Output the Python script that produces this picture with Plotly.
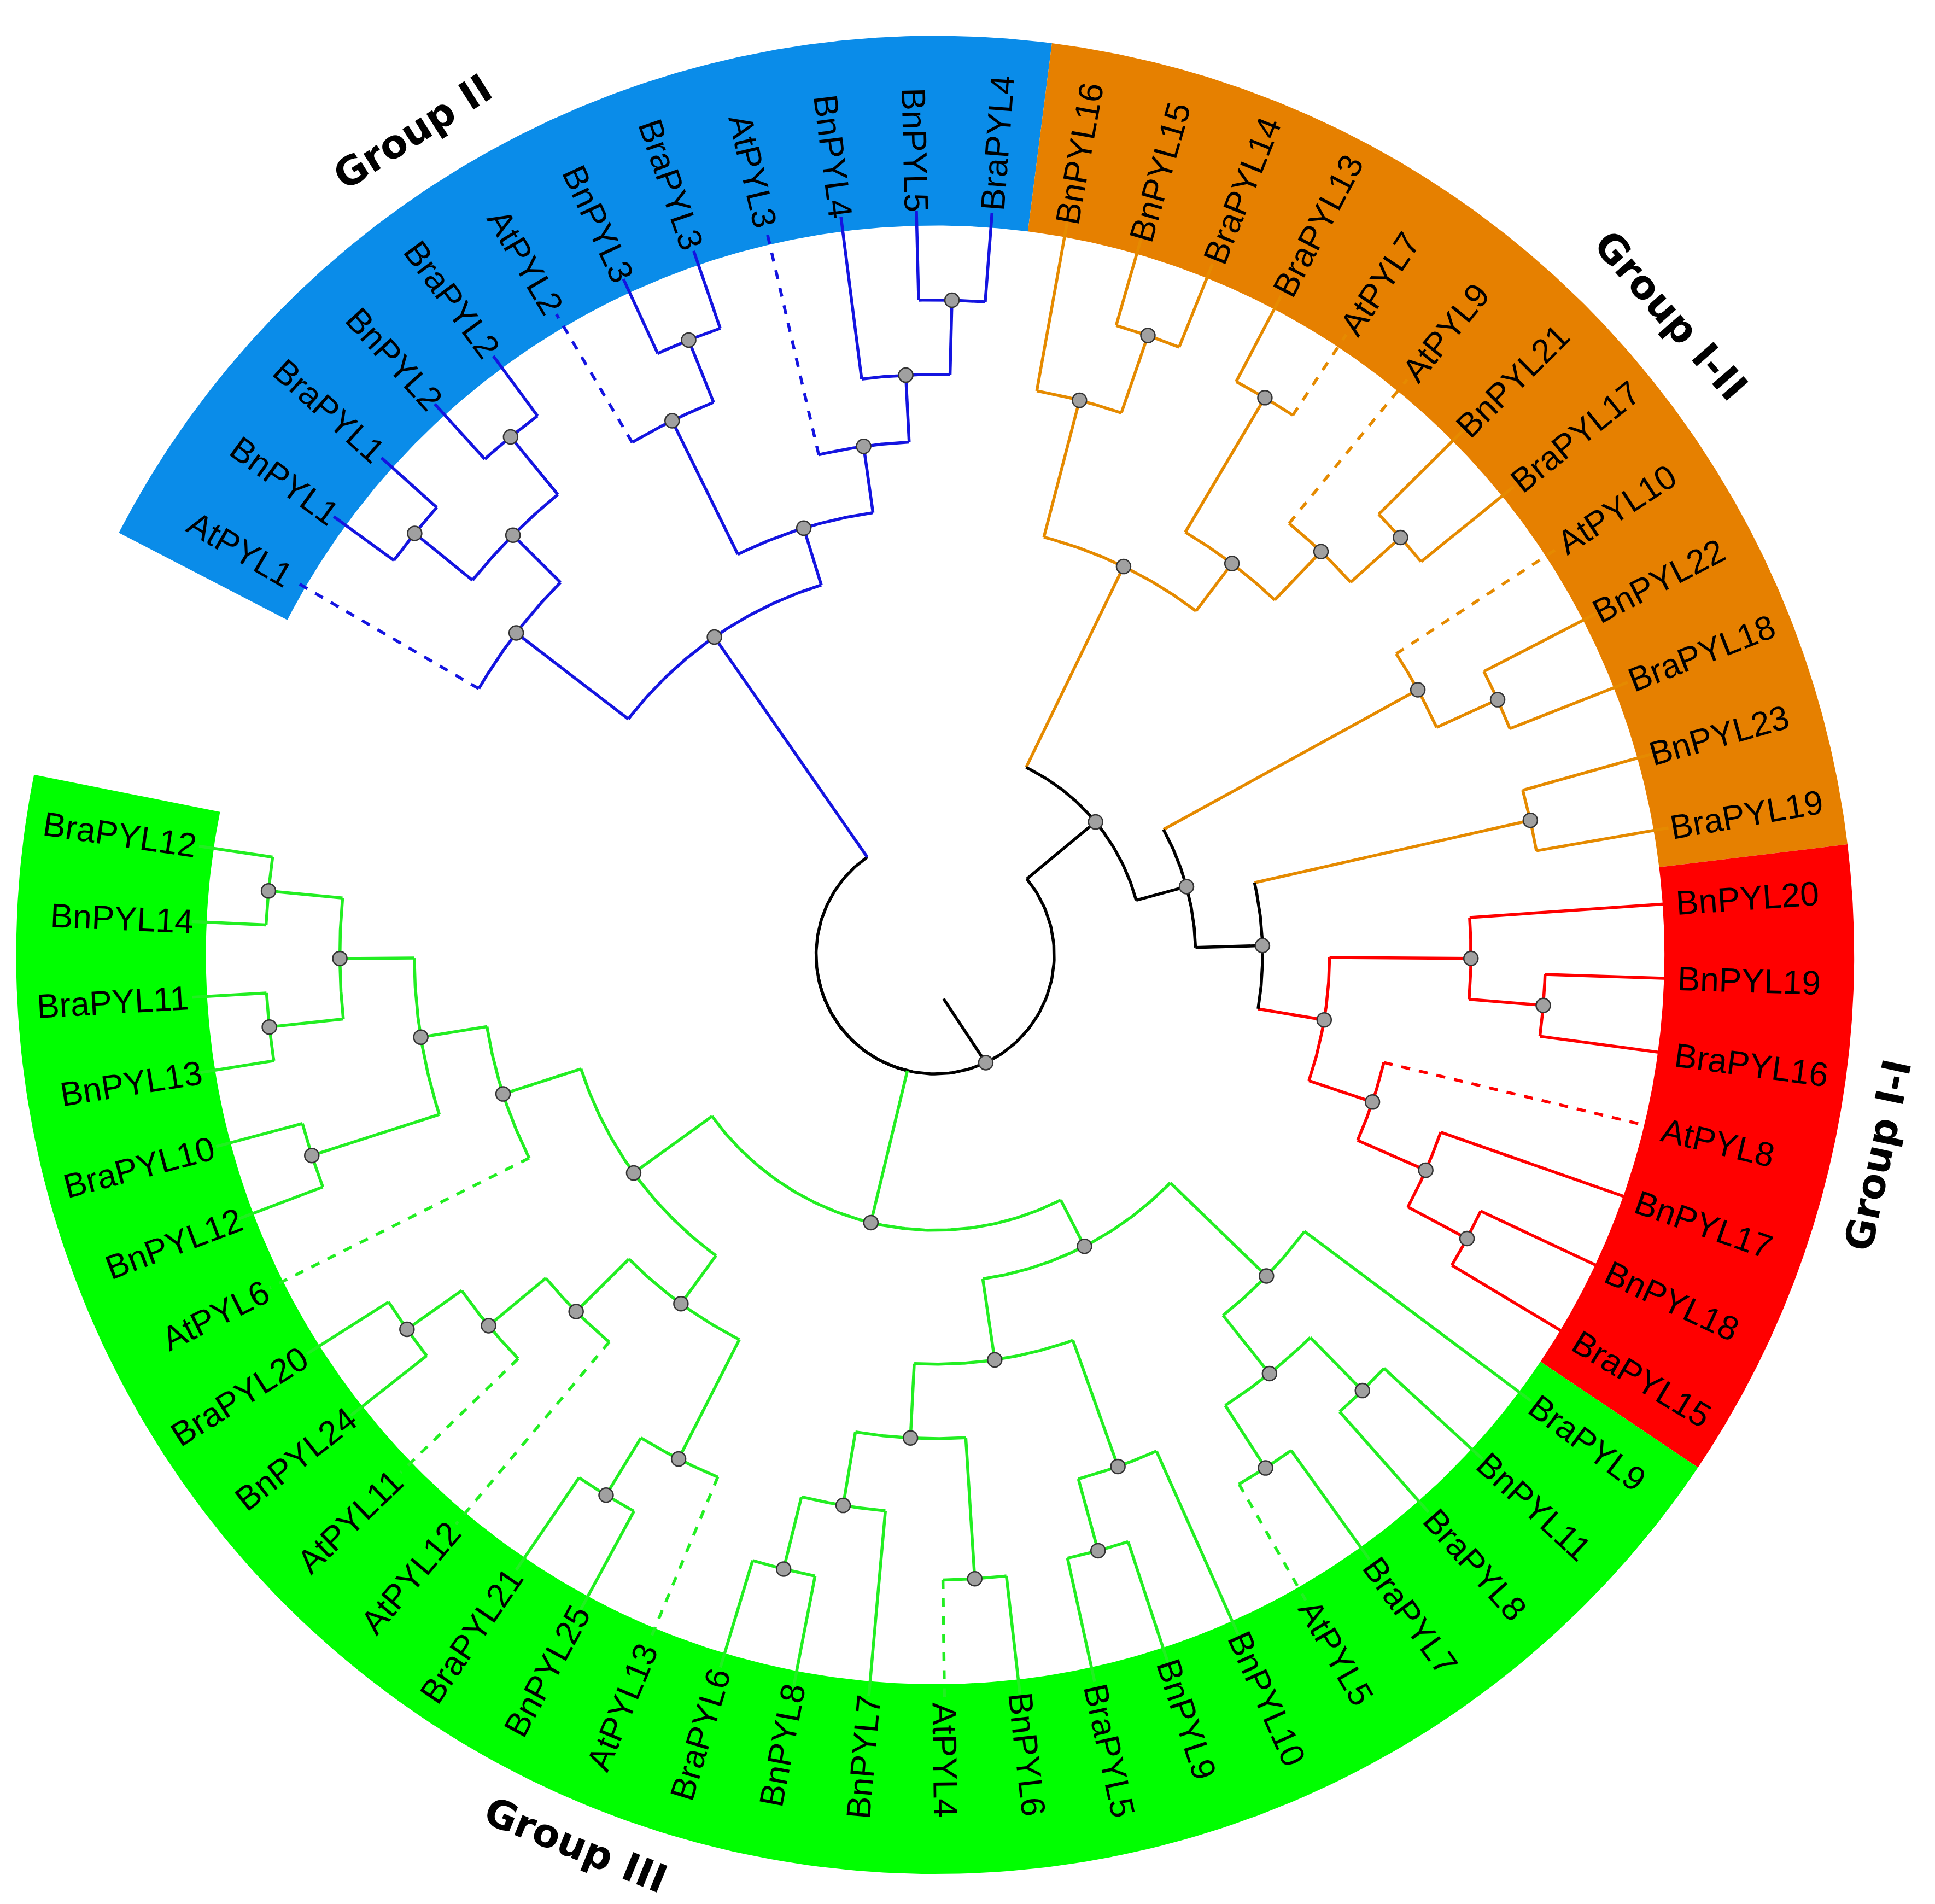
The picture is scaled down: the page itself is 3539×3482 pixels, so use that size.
import numpy as np
import plotly.graph_objects as go

# leaf groups (clockwise order inside each group)
group_II = ["AtPYL1", "BnPYL1", "BraPYL1", "BnPYL2", "BraPYL2", "AtPYL2", "BnPYL3",
            "BraPYL3", "AtPYL3", "BnPYL4", "BnPYL5", "BraPYL4"]
group_I_II = ["BnPYL16", "BnPYL15", "BraPYL14", "BraPYL13", "AtPYL7", "AtPYL9", "BnPYL21",
              "BraPYL17", "AtPYL10", "BnPYL22", "BraPYL18", "BnPYL23", "BraPYL19"]
group_I_I = ["BnPYL20", "BnPYL19", "BraPYL16", "AtPYL8", "BnPYL17", "BnPYL18", "BraPYL15"]
group_III = ["BraPYL9", "BnPYL11", "BraPYL8", "BraPYL7", "AtPYL5", "BnPYL10", "BnPYL9",
             "BraPYL5", "BnPYL6", "AtPYL4", "BnPYL7", "BnPYL8", "BraPYL6", "AtPYL13",
             "BnPYL25", "BraPYL21", "AtPYL12", "AtPYL11", "BnPYL24", "BraPYL20", "AtPYL6",
             "BnPYL12", "BraPYL10", "BnPYL13", "BraPYL11", "BnPYL14", "BraPYL12"]

line_colors = {"II": "#1414e0", "I-II": "#e58a00", "I-I": "#ff0000", "III": "#22ee22"}
band_colors = {"II": "#0a8ce9", "I-II": "#e68000", "I-I": "#ff0000", "III": "#00ff00"}

group_of = {}
for g, lst in [("II", group_II), ("I-II", group_I_II), ("I-I", group_I_I), ("III", group_III)]:
    for n in lst:
        group_of[n] = g


def N(r, *kids):
    return {"r": r, "kids": list(kids)}


# tree topology with node radii (tip radius = 1)
tree_II = N(0.52,
            N(0.71, "AtPYL1", N(0.80, N(0.90, "BnPYL1", "BraPYL1"), N(0.90, "BnPYL2", "BraPYL2"))),
            N(0.60, N(0.80, "AtPYL2", N(0.89, "BnPYL3", "BraPYL3")),
              N(0.69, "AtPYL3", N(0.78, "BnPYL4", N(0.88, "BnPYL5", "BraPYL4")))))
tree_A1 = N(0.58, N(0.77, "BnPYL16", N(0.88, "BnPYL15", "BraPYL14")),
            N(0.66, N(0.87, "BraPYL13", "AtPYL7"), N(0.75, "AtPYL9", N(0.84, "BnPYL21", "BraPYL17"))))
tree_B1 = N(0.74, "AtPYL10", N(0.83, "BnPYL22", "BraPYL18"))
tree_red = N(0.53, N(0.72, "BnPYL20", N(0.82, "BnPYL19", "BraPYL16")),
             N(0.62, "AtPYL8", N(0.72, "BnPYL17", N(0.81, "BnPYL18", "BraPYL15"))))
tree_N3 = N(0.44, N(0.82, "BnPYL23", "BraPYL19"), tree_red)
tree_N1 = N(0.28, tree_A1, N(0.35, tree_B1, tree_N3))
tree_G1 = N(0.44,
            N(0.62, "BraPYL9", N(0.72, N(0.82, "BnPYL11", "BraPYL8"), N(0.82, "BraPYL7", "AtPYL5"))),
            N(0.55, N(0.73, "BnPYL10", N(0.83, "BnPYL9", "BraPYL5")),
              N(0.65, N(0.84, "BnPYL6", "AtPYL4"), N(0.75, "BnPYL7", N(0.85, "BnPYL8", "BraPYL6")))))
tree_G2 = N(0.50,
            N(0.58, N(0.76, "AtPYL13", N(0.85, "BnPYL25", "BraPYL21")),
              N(0.68, "AtPYL12", N(0.78, "AtPYL11", N(0.87, "BnPYL24", "BraPYL20")))),
            N(0.61, "AtPYL6", N(0.70, N(0.88, "BnPYL12", "BraPYL10"),
                                N(0.80, N(0.90, "BnPYL13", "BraPYL11"), N(0.90, "BnPYL14", "BraPYL12")))))
tree_X = N(0.16, N(0.37, tree_G1, tree_G2), tree_II)
tree = N(0.16, tree_N1, tree_X)

start_angle = 82.7
step = 5.83
gap = 360 - step * 59

# assign leaf angles
leaf_angle = {}
counter = [0]


def walk(node):
    if isinstance(node, str):
        k = counter[0]
        a = start_angle - step * (k + 0.5)
        if group_of[node] == "II":
            a -= gap
        leaf_angle[node] = a
        counter[0] += 1
        return
    for c in node["kids"]:
        walk(c)


walk(tree)

segs = {}
dots = []


def ang(node):
    if isinstance(node, str):
        return leaf_angle[node]
    return node["a"]


def groups(node):
    if isinstance(node, str):
        return {group_of[node]}
    s = set()
    for c in node["kids"]:
        s |= groups(c)
    return s


def col(node):
    g = groups(node)
    return line_colors[g.pop()] if len(g) == 1 else "black"


def add(key, xs, ys):
    segs.setdefault(key, ([], []))
    segs[key][0].extend(list(xs) + [None])
    segs[key][1].extend(list(ys) + [None])


def layout(node):
    for c in node["kids"]:
        if not isinstance(c, str):
            layout(c)
    angs = [ang(c) for c in node["kids"]]
    node["a"] = float(np.mean(angs))
    r = node["r"]
    c0 = col(node)
    t = np.radians(np.linspace(min(angs), max(angs), 120))
    add((c0, "solid"), r * np.cos(t), r * np.sin(t))
    for c in node["kids"]:
        a = np.radians(ang(c))
        rc = 1.0 if isinstance(c, str) else c["r"]
        if rc == r:
            continue
        dash = "dash" if isinstance(c, str) and c.startswith("At") else "solid"
        add((col(c), dash), [r * np.cos(a), rc * np.cos(a)], [r * np.sin(a), rc * np.sin(a)])
    if node is not tree_X:
        dots.append((r * np.cos(np.radians(node["a"])), r * np.sin(np.radians(node["a"]))))


layout(tree)
# root stub
ra = np.radians(tree["a"])
add(("black", "solid"), [0.06 * np.cos(ra - 0.25), tree["r"] * np.cos(ra)],
    [0.06 * np.sin(ra - 0.25), tree["r"] * np.sin(ra)])

fig = go.Figure()

# colored band sectors
r_in, r_out = 0.98, 1.235
for g, lst in [("II", group_II), ("I-II", group_I_II), ("I-I", group_I_I), ("III", group_III)]:
    a_hi = leaf_angle[lst[0]] + step / 2
    a_lo = leaf_angle[lst[-1]] - step / 2
    t = np.radians(np.linspace(a_hi, a_lo, 200))
    xs = np.concatenate([r_out * np.cos(t), r_in * np.cos(t[::-1])])
    ys = np.concatenate([r_out * np.sin(t), r_in * np.sin(t[::-1])])
    fig.add_trace(go.Scatter(x=xs, y=ys, fill="toself", fillcolor=band_colors[g],
                             line=dict(width=0), mode="lines", hoverinfo="skip"))

for (c, dash), (xs, ys) in segs.items():
    fig.add_trace(go.Scatter(x=xs, y=ys, mode="lines",
                             line=dict(color=c, width=5.5, dash=dash), hoverinfo="skip"))

fig.add_trace(go.Scatter(x=[d[0] for d in dots], y=[d[1] for d in dots], mode="markers",
                         marker=dict(size=26, color="#a0a0a0", line=dict(color="#333", width=2.5))))

# leaf labels
fs = 62
char_w = 0.56 * fs / 1361
for name, a in leaf_angle.items():
    a = (a + 180) % 360 - 180
    rc = 1.005 + len(name) * char_w / 2
    rot = -a if -90 <= a <= 90 else 180 - a
    fig.add_annotation(x=rc * np.cos(np.radians(a)), y=rc * np.sin(np.radians(a)),
                       text=name, showarrow=False, textangle=rot,
                       font=dict(family="Liberation Sans", size=fs, color="black"))

# group labels
group_labels = [("Group II", 122.4, 1.31), ("Group I-II", 41.0, 1.31),
                ("Group I-I", -12.0, 1.295), ("Group III", -112.0, 1.29)]
for txt, a, r in group_labels:
    rot = 90 - a if a > 0 else -90 - a
    fig.add_annotation(x=r * np.cos(np.radians(a)), y=r * np.sin(np.radians(a)),
                       text="<b>" + txt + "</b>", showarrow=False, textangle=rot,
                       font=dict(family="DejaVu Sans", size=72, color="black"))

fig.update_layout(width=3539, height=3482, showlegend=False, plot_bgcolor="white",
                  paper_bgcolor="white", margin=dict(l=0, r=0, t=0, b=0),
                  xaxis=dict(range=[-1.2508, 1.3495], visible=False),
                  yaxis=dict(range=[-1.2812, 1.2772], visible=False))
fig.write_html("out.html")
